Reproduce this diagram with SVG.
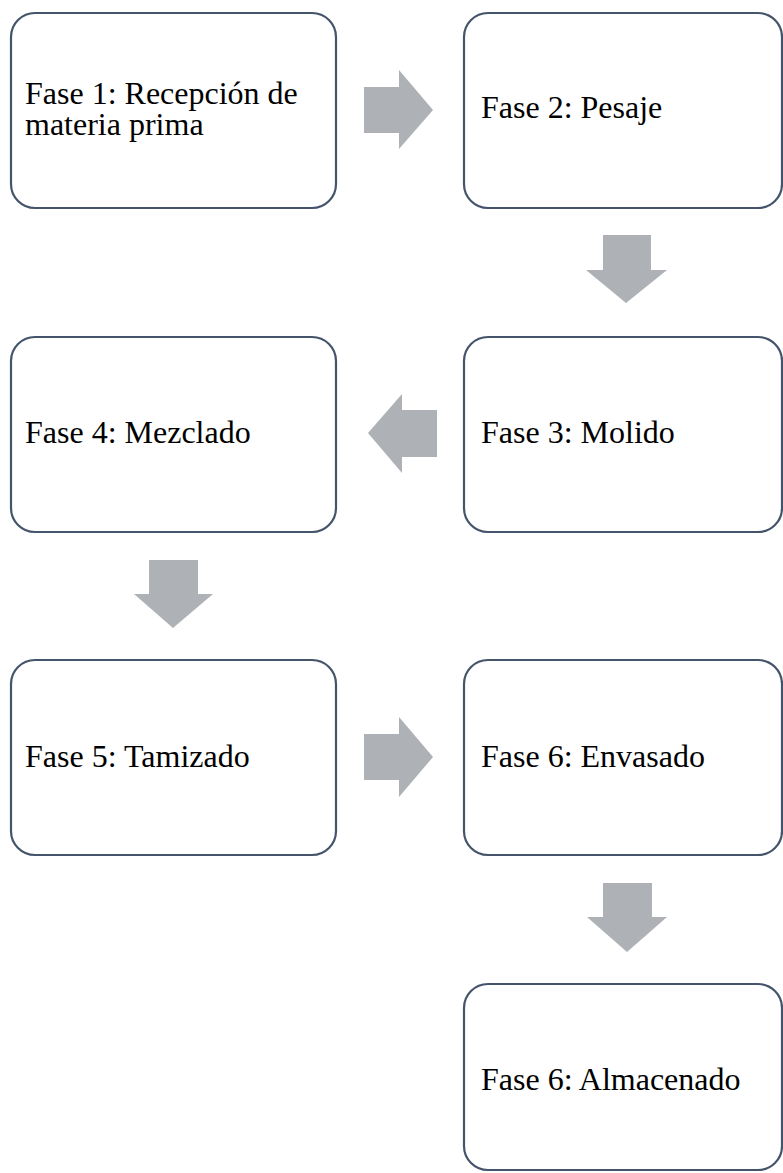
<svg xmlns="http://www.w3.org/2000/svg" width="783" height="1173" viewBox="0 0 783 1173">
<style>
.box{fill:#FFFFFF;stroke:#44546A;stroke-width:2.2}
.arr{fill:#AEB1B6;stroke:none}
</style>
<rect width="783" height="1173" fill="#FFFFFF"/>
<g id="connectors">
<polygon class="arr" points="364,87 399,87 399,70 433,110 399,149 399,133 364,133"/>
<polygon class="arr" points="603,235 651,235 651,270 667,270 626,303 586,270 603,270"/>
<polygon class="arr" points="437,410 402,410 402,394 368,433 402,473 402,457 437,457"/>
<polygon class="arr" points="149,560 198,560 198,594 213,594 173,628 134,594 149,594"/>
<polygon class="arr" points="364,734 399,734 399,717 433,757 399,797 399,780 364,780"/>
<polygon class="arr" points="603,883 652,883 652,917 667,917 627,952 587,917 603,917"/>
</g>
<g font-family="Liberation Serif, Times New Roman, serif" font-size="32" fill="#000000">
<g id="node1">
<rect class="box" x="11" y="13" width="325" height="195" rx="24"/>
<text x="25" y="104">Fase 1: Recepción de</text>
<text x="25" y="135">materia prima</text>
</g>
<g id="node2">
<rect class="box" x="464" y="13" width="318" height="195" rx="24"/>
<text x="481" y="118">Fase 2: Pesaje</text>
</g>
<g id="node3">
<rect class="box" x="464" y="337" width="318" height="195" rx="24"/>
<text x="481" y="443">Fase 3: Molido</text>
</g>
<g id="node4">
<rect class="box" x="11" y="337" width="325" height="195" rx="24"/>
<text x="25" y="443">Fase 4: Mezclado</text>
</g>
<g id="node5">
<rect class="box" x="11" y="660" width="325" height="195" rx="24"/>
<text x="25" y="767">Fase 5: Tamizado</text>
</g>
<g id="node6">
<rect class="box" x="464" y="660" width="318" height="195" rx="24"/>
<text x="481" y="767">Fase 6: Envasado</text>
</g>
<g id="node7">
<rect class="box" x="464" y="984" width="318" height="186" rx="24"/>
<text x="481" y="1090">Fase 6: Almacenado</text>
</g>
</g>
</svg>
